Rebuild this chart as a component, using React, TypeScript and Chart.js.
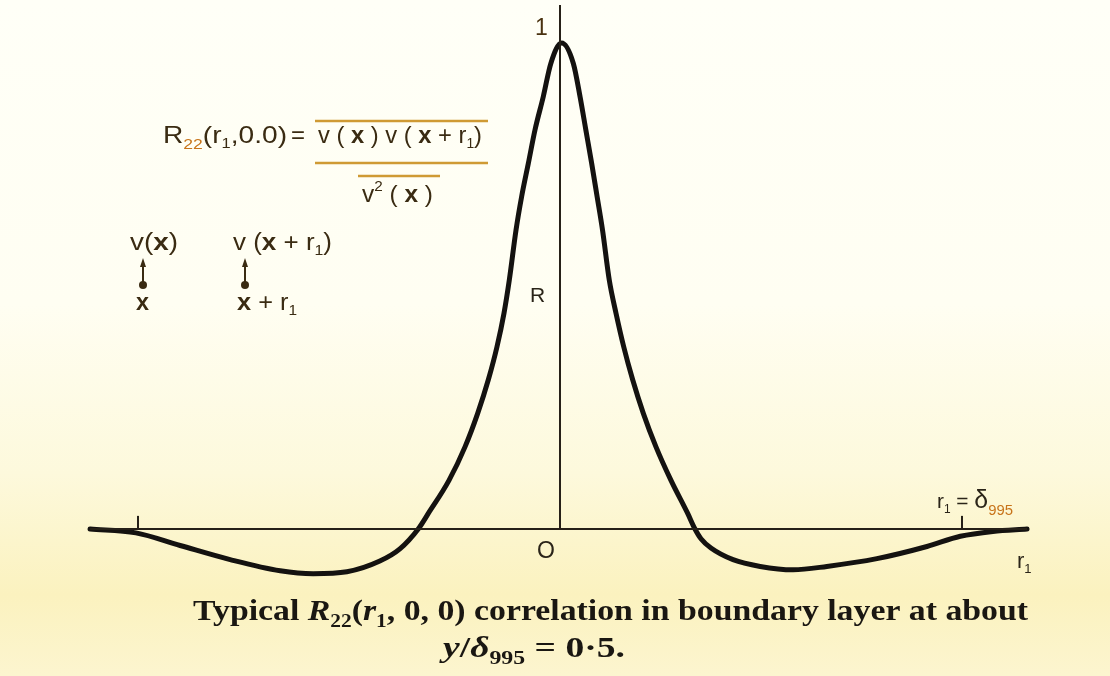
import React, { useEffect, useRef } from "react";
import { Chart, registerables } from "chart.js";

Chart.register(...registerables);

// r1 / delta995 (horizontal position) and correlation R22
const rValues = [
  -1.127, -1.017, -0.911, -0.791, -0.671, -0.592, -0.511, -0.432, -0.384, -0.34,
  -0.3158, -0.2662, -0.2278, -0.1974, -0.1719, -0.1511, -0.1343, -0.1216, -0.1055, -0.092,
  -0.076, -0.06, -0.04, -0.022, 0.004, 0.032, 0.048, 0.062, 0.076, 0.089,
  0.102, 0.1182, 0.1343, 0.1528, 0.1743, 0.1998, 0.2302, 0.2662, 0.3062, 0.3237,
  0.338, 0.362, 0.415, 0.48, 0.559, 0.64, 0.76, 0.88, 0.96, 1.038, 1.12,
];
const rCorr = [
  0, -0.008, -0.034, -0.063, -0.086, -0.092, -0.088, -0.066, -0.041, 0,
  0.032, 0.1, 0.169, 0.238, 0.307, 0.375, 0.444, 0.512, 0.615, 0.684,
  0.752, 0.821, 0.89, 0.958, 1.0, 0.958, 0.89, 0.821, 0.752, 0.684,
  0.615, 0.512, 0.444, 0.375, 0.307, 0.238, 0.169, 0.1, 0.032, 0,
  -0.02, -0.039, -0.063, -0.077, -0.084, -0.077, -0.061, -0.036, -0.015, -0.005, 0,
];
const axisEnds = [-1.127, 1.12];
const deltaMarks = [-1.012, 0.964];
const axisTop = 1.078;
const markHeight = 0.027;

const X_MIN = -560 / 417;
const X_MAX = 550 / 417;
const Y_MAX = 529 / 486;
const Y_MIN = -(676 - 529) / 486;

type Run = { t: string; f: string; dy?: number; c?: string };

const SANS = '"Liberation Sans", Arial, sans-serif';
const SERIF = '"Liberation Serif", "Times New Roman", serif';
const INK = "#3a2b12";
const ORANGE = "#c8741a";
const LINE_OR = "#cf9a34";

function drawRuns(
  ctx: CanvasRenderingContext2D,
  runs: Run[],
  x: number,
  y: number,
  width?: number,
  color = INK
) {
  const widths = runs.map((r) => {
    ctx.font = r.f;
    return ctx.measureText(r.t).width;
  });
  const total = widths.reduce((a, b) => a + b, 0);
  const sx = width ? width / total : 1;
  ctx.save();
  ctx.translate(x, y);
  ctx.scale(sx, 1);
  ctx.textBaseline = "alphabetic";
  ctx.textAlign = "left";
  let cx = 0;
  runs.forEach((r, i) => {
    ctx.font = r.f;
    ctx.fillStyle = r.c || color;
    ctx.fillText(r.t, cx, r.dy || 0);
    cx += widths[i];
  });
  ctx.restore();
}

function hLine(ctx: CanvasRenderingContext2D, x1: number, x2: number, y: number, c: string, w: number) {
  ctx.save();
  ctx.strokeStyle = c;
  ctx.lineWidth = w;
  ctx.beginPath();
  ctx.moveTo(x1, y);
  ctx.lineTo(x2, y);
  ctx.stroke();
  ctx.restore();
}

function arrowDot(ctx: CanvasRenderingContext2D, x: number, yTop: number, yDot: number) {
  ctx.save();
  ctx.strokeStyle = INK;
  ctx.fillStyle = INK;
  ctx.lineWidth = 2;
  ctx.beginPath();
  ctx.moveTo(x, yDot);
  ctx.lineTo(x, yTop + 6);
  ctx.stroke();
  ctx.beginPath();
  ctx.moveTo(x, yTop);
  ctx.lineTo(x - 3, yTop + 9);
  ctx.lineTo(x + 3, yTop + 9);
  ctx.closePath();
  ctx.fill();
  ctx.beginPath();
  ctx.arc(x, yDot, 4, 0, Math.PI * 2);
  ctx.fill();
  ctx.restore();
}

const textPlugin = {
  id: "figureText",
  afterDatasetsDraw(chart: any) {
    const ctx: CanvasRenderingContext2D = chart.ctx;
    const xs = chart.scales.x;
    const ys = chart.scales.y;
    const px = (v: number) => xs.getPixelForValue(v);
    const py = (v: number) => ys.getPixelForValue(v);
    const f = (s: number, extra = "") => `${extra} ${s}px ${SANS}`.trim();

    // Formula
    drawRuns(
      ctx,
      [
        { t: "R", f: f(24) },
        { t: "22", f: f(15), dy: 6, c: ORANGE },
        { t: "(r", f: f(24) },
        { t: "1", f: f(14), dy: 5 },
        { t: ",0.0)", f: f(24) },
      ],
      163,
      143,
      124
    );
    drawRuns(ctx, [{ t: "=", f: f(24) }], 291, 143, 14);
    drawRuns(
      ctx,
      [
        { t: "v (", f: f(24) },
        { t: " x ", f: f(24, "bold") },
        { t: ") v (", f: f(24) },
        { t: " x ", f: f(24, "bold") },
        { t: "+ r", f: f(24) },
        { t: "1", f: f(14), dy: 5 },
        { t: ")", f: f(24) },
      ],
      318,
      143,
      164
    );
    hLine(ctx, 315, 488, 121, LINE_OR, 2.5);
    hLine(ctx, 315, 488, 163, LINE_OR, 2.5);
    hLine(ctx, 358, 440, 176, LINE_OR, 2.5);
    drawRuns(
      ctx,
      [
        { t: "v", f: f(24) },
        { t: "2", f: f(15), dy: -11 },
        { t: " (", f: f(24) },
        { t: " x ", f: f(24, "bold") },
        { t: ")", f: f(24) },
      ],
      362,
      202,
      71
    );

    // Probe sketch
    drawRuns(
      ctx,
      [
        { t: "v(", f: f(23) },
        { t: "x", f: f(23, "bold") },
        { t: ")", f: f(23) },
      ],
      130,
      250,
      48
    );
    drawRuns(
      ctx,
      [
        { t: "v (", f: f(23) },
        { t: "x", f: f(23, "bold") },
        { t: " + r", f: f(23) },
        { t: "1", f: f(14), dy: 5 },
        { t: ")", f: f(23) },
      ],
      233,
      250,
      99
    );
    arrowDot(ctx, 143, 258, 285);
    arrowDot(ctx, 245, 258, 285);
    drawRuns(ctx, [{ t: "x", f: f(23, "bold") }], 136, 310, 13);
    drawRuns(
      ctx,
      [
        { t: "x", f: f(23, "bold") },
        { t: " + r", f: f(23) },
        { t: "1", f: f(14), dy: 5 },
      ],
      237,
      310,
      60
    );

    // Axis labels
    drawRuns(ctx, [{ t: "1", f: f(23) }], px(0) - 25, py(1) - 8, undefined, "#4a3210");
    drawRuns(ctx, [{ t: "R", f: f(21) }], px(0) - 30, 302, undefined, "#2a2418");
    drawRuns(ctx, [{ t: "O", f: f(23) }], px(0) - 23, py(0) + 29, undefined, "#2a2418");
    drawRuns(
      ctx,
      [
        { t: "r", f: f(22) },
        { t: "1", f: f(13), dy: 5 },
      ],
      1017,
      568,
      undefined,
      "#2a2418"
    );
    drawRuns(
      ctx,
      [
        { t: "r", f: f(21) },
        { t: "1", f: f(12), dy: 5 },
        { t: " = ", f: f(21) },
        { t: "δ", f: f(25) },
        { t: "995", f: f(15), dy: 7, c: ORANGE },
      ],
      937,
      508,
      76,
      "#2a2418"
    );

    // Caption
    const s = (w = "") => `${w} 30px ${SERIF}`.trim();
    const sub = `bold 19px ${SERIF}`;
    drawRuns(
      ctx,
      [
        { t: "Typical ", f: s("bold") },
        { t: "R", f: s("italic bold") },
        { t: "22", f: sub, dy: 7 },
        { t: "(", f: s("bold") },
        { t: "r", f: s("italic bold") },
        { t: "1", f: sub, dy: 7 },
        { t: ", 0, 0) correlation in boundary layer at about", f: s("bold") },
      ],
      193,
      620,
      835,
      "#1a1712"
    );
    drawRuns(
      ctx,
      [
        { t: "y", f: s("italic bold") },
        { t: "/", f: s("bold") },
        { t: "δ", f: s("italic bold") },
        { t: "995", f: sub, dy: 7 },
        { t: " = 0·5.", f: s("bold") },
      ],
      443,
      657,
      182,
      "#1a1712"
    );
  },
};

export default function App() {
  const ref = useRef<HTMLCanvasElement>(null);

  useEffect(() => {
    const canvas = ref.current;
    if (!canvas) return;
    const curve = rValues.map((x, i) => ({ x, y: rCorr[i] }));
    const axisStyle = {
      showLine: true,
      borderColor: "#262018",
      borderWidth: 2,
      pointRadius: 0,
      tension: 0,
    };
    const chart = new Chart(canvas, {
      type: "scatter",
      data: {
        datasets: [
          { ...axisStyle, data: axisEnds.map((x) => ({ x, y: 0 })) },
          { ...axisStyle, data: [{ x: 0, y: 0 }, { x: 0, y: axisTop }] },
          ...deltaMarks.map((x) => ({
            ...axisStyle,
            data: [
              { x, y: 0 },
              { x, y: markHeight },
            ],
          })),
          {
            data: curve,
            showLine: true,
            borderColor: "#141210",
            borderWidth: 5,
            pointRadius: 0,
            cubicInterpolationMode: "monotone",
            borderJoinStyle: "round",
            borderCapStyle: "round",
          } as any,
        ],
      },
      options: {
        responsive: false,
        animation: false,
        events: [],
        layout: { padding: 0 },
        plugins: { legend: { display: false }, tooltip: { enabled: false } },
        scales: {
          x: { type: "linear", display: false, min: X_MIN, max: X_MAX },
          y: { type: "linear", display: false, min: Y_MIN, max: Y_MAX },
        },
      },
      plugins: [textPlugin],
    });
    return () => chart.destroy();
  }, []);

  return (
    <div
      style={{
        position: "fixed",
        left: 0,
        top: 0,
        width: 1110,
        height: 676,
        background:
          "linear-gradient(180deg, #fffff7 0%, #fffef2 45%, #fdf9dc 70%, #fbf2bf 88%, #fcf5cf 100%)",
      }}
    >
      <canvas ref={ref} width={1110} height={676} style={{ display: "block" }} />
    </div>
  );
}
